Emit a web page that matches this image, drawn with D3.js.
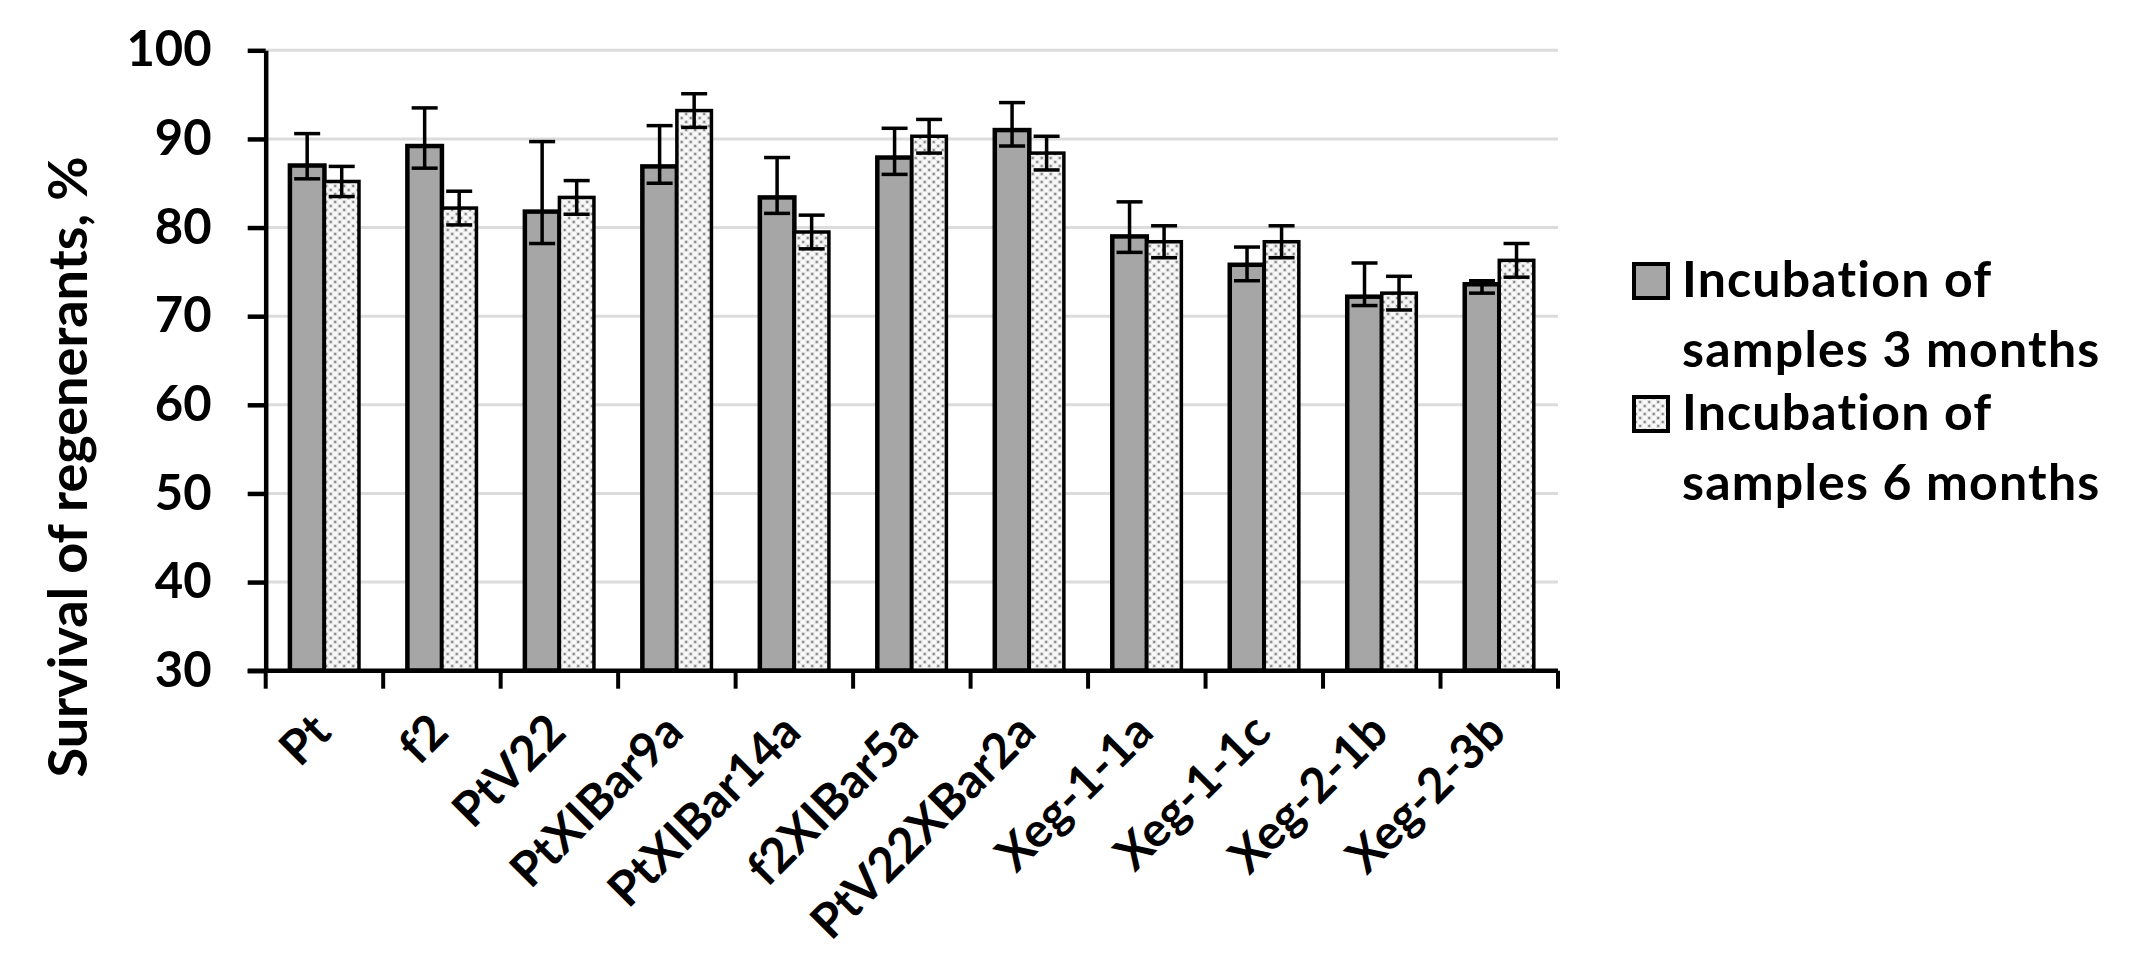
<!DOCTYPE html>
<html><head><meta charset="utf-8">
<script src="https://cdn.jsdelivr.net/npm/d3@7"></script>
<style>body{margin:0;background:#fff}</style>
</head><body><svg id="c" width="2153" height="953"></svg>
<script>
const categories = ["Pt","f2","PtV22","PtXIBar9a","PtXIBar14a","f2XIBar5a","PtV22XBar2a","Xeg-1-1a","Xeg-1-1c","Xeg-2-1b","Xeg-2-3b"];
const months3 = [87.0, 89.2, 81.8, 86.9, 83.4, 87.9, 91.0, 79.0, 75.8, 72.2, 73.6];
const months3ErrPlus = [3.6, 4.3, 7.9, 4.6, 4.5, 3.3, 3.1, 3.9, 2.0, 3.8, 0.4];
const months3ErrMinus = [1.5, 2.5, 3.6, 1.9, 1.8, 1.9, 1.8, 1.8, 1.8, 1.0, 1.0];
const months6 = [85.2, 82.2, 83.4, 93.2, 79.5, 90.3, 88.4, 78.4, 78.4, 72.6, 76.3];
const months6Err = [1.7, 1.9, 1.9, 1.9, 1.9, 1.9, 1.9, 1.8, 1.8, 1.9, 1.9];
const yTicks = [30, 40, 50, 60, 70, 80, 90, 100];
const legendLabels = [["Incubation of", "samples 3 months"], ["Incubation of", "samples 6 months"]];
const yTitle = "Survival of regenerants, %";

const FONT = "Lato, 'Open Sans', sans-serif";
const svg = d3.select("#c");
const m = {left: 265.7, right: 1558, top: 50.3, bottom: 670.7};

// pattern for dotted bars
const defs = svg.append("defs");
const pat = defs.append("pattern").attr("id", "dots").attr("patternUnits", "userSpaceOnUse")
  .attr("width", 9).attr("height", 8);
pat.append("rect").attr("width", 9).attr("height", 8).attr("fill", "#f8f8f8");
pat.append("rect").attr("x", 0).attr("y", 0).attr("width", 4.5).attr("height", 4).attr("fill", "#e4e4e4");
pat.append("rect").attr("x", 4.5).attr("y", 4).attr("width", 4.5).attr("height", 4).attr("fill", "#e4e4e4");
pat.append("circle").attr("cx", 2.2).attr("cy", 2).attr("r", 1.2).attr("fill", "#8a8a8a");
pat.append("circle").attr("cx", 6.7).attr("cy", 6).attr("r", 1.2).attr("fill", "#8a8a8a");

const x = d3.scaleBand().domain(categories).range([m.left, m.right]).paddingInner(0).paddingOuter(0);
const y = d3.scaleLinear().domain([30, 100]).range([m.bottom, m.top]);
const bw = x.bandwidth() * 0.294;

// gridlines
svg.append("g").selectAll("line").data(yTicks.filter(t => t > 30)).join("line")
  .attr("x1", m.left).attr("x2", m.right)
  .attr("y1", d => y(d)).attr("y2", d => y(d))
  .attr("stroke", "#dcdcdc").attr("stroke-width", 3);

const data = categories.map((c, i) => ({
  c, v3: months3[i], p3: months3ErrPlus[i], n3: months3ErrMinus[i],
  v6: months6[i], e6: months6Err[i]
}));
const cx = d => x(d.c) + x.bandwidth() / 2;

// bars
svg.append("g").selectAll("rect").data(data).join("rect")
  .attr("x", d => cx(d) - bw).attr("width", bw)
  .attr("y", d => y(d.v3)).attr("height", d => y(30) - y(d.v3))
  .attr("fill", "#a6a6a6").attr("stroke", "#000").attr("stroke-width", 4.5);
svg.append("g").selectAll("rect").data(data).join("rect")
  .attr("x", d => cx(d)).attr("width", bw)
  .attr("y", d => y(d.v6)).attr("height", d => y(30) - y(d.v6))
  .attr("fill", "url(#dots)").attr("stroke", "#000").attr("stroke-width", 3.5);

// error bars
const cap = 13;
function errBars(xc, hi, lo) {
  const g = svg.append("g").attr("stroke", "#000").attr("stroke-width", 3.5);
  data.forEach(d => {
    const xx = xc(d), yh = y(hi(d)), yl = y(lo(d));
    g.append("line").attr("x1", xx).attr("x2", xx).attr("y1", yh).attr("y2", yl);
    g.append("line").attr("x1", xx - cap).attr("x2", xx + cap).attr("y1", yh).attr("y2", yh);
    g.append("line").attr("x1", xx - cap).attr("x2", xx + cap).attr("y1", yl).attr("y2", yl);
  });
}
errBars(d => cx(d) - bw / 2, d => d.v3 + d.p3, d => d.v3 - d.n3);
errBars(d => cx(d) + bw / 2, d => d.v6 + d.e6, d => d.v6 - d.e6);

// y axis
const ya = svg.append("g").attr("transform", `translate(${m.left},0)`)
  .call(d3.axisLeft(y).tickValues(yTicks).tickSize(18).tickSizeOuter(0).tickPadding(36));
ya.select(".domain").attr("stroke", "#000").attr("stroke-width", 4.5);
ya.selectAll(".tick line").attr("stroke", "#000").attr("stroke-width", 4.5);
ya.selectAll(".tick text").attr("font-family", FONT).attr("font-weight", "bold")
  .attr("font-size", 49).attr("fill", "#000");

// x axis
const xg = svg.append("g");
xg.append("line").attr("x1", m.left - 18).attr("x2", m.right)
  .attr("y1", y(30)).attr("y2", y(30)).attr("stroke", "#000").attr("stroke-width", 4.5);
const bounds = categories.map(c => x(c)).concat([m.right]);
xg.selectAll("line.t").data(bounds).join("line").attr("class", "t")
  .attr("x1", d => d).attr("x2", d => d)
  .attr("y1", y(30)).attr("y2", y(30) + 18)
  .attr("stroke", "#000").attr("stroke-width", 4);
xg.selectAll("text").data(categories).join("text")
  .attr("transform", c => `translate(${x(c) + x.bandwidth() / 2 - 3},${y(30) + 52}) rotate(-45)`)
  .attr("text-anchor", "end").attr("dy", "0.35em")
  .attr("font-family", FONT).attr("font-weight", "bold").attr("font-size", 48)
  .text(c => c);

// y title
svg.append("text").attr("transform", "translate(87,467) rotate(-90)")
  .attr("text-anchor", "middle")
  .attr("font-family", FONT).attr("font-weight", "bold").attr("font-size", 54)
  .text(yTitle);

// legend
const lg = svg.append("g");
const legendY = [262, 395];
const fills = ["#a6a6a6", "url(#dots)"];
legendLabels.forEach((lines, i) => {
  lg.append("rect").attr("x", 1634).attr("y", legendY[i] + 2).attr("width", 34).attr("height", 34)
    .attr("fill", fills[i]).attr("stroke", "#000").attr("stroke-width", 4);
  lines.forEach((t, j) => {
    lg.append("text").attr("x", 1682).attr("y", legendY[i] + 35 + j * 70)
      .attr("font-family", FONT).attr("font-weight", "bold").attr("font-size", 50)
      .attr("letter-spacing", 1.2)
      .text(t);
  });
});
</script>
</body></html>
